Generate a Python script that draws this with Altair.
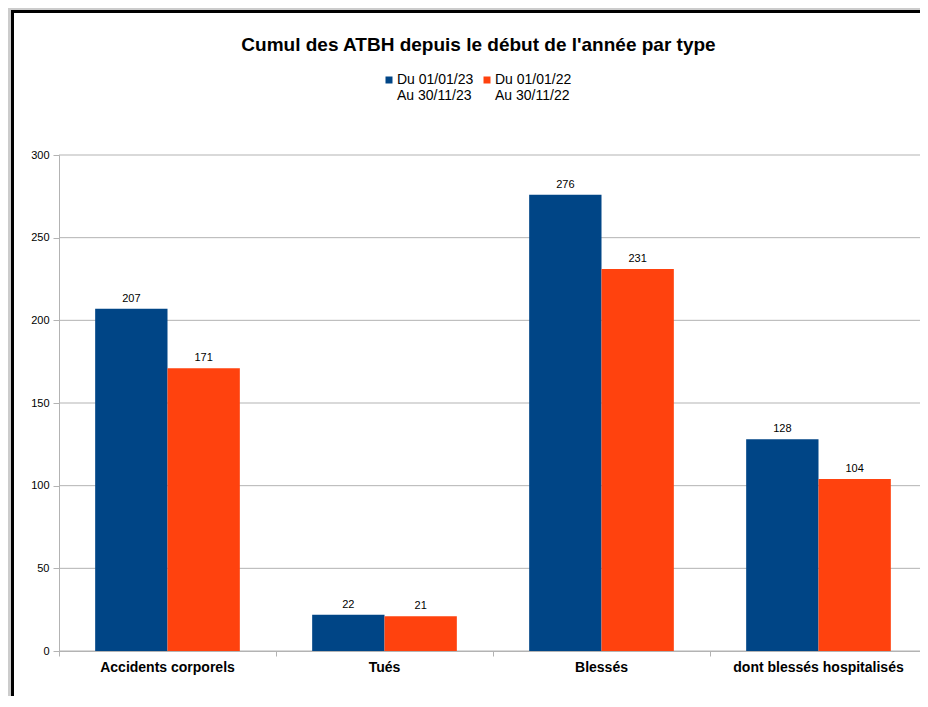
import altair as alt
import pandas as pd

categories = ["Accidents corporels", "Tués", "Blessés", "dont blessés hospitalisés"]
series_names = ["Du 01/01/23\nAu 30/11/23", "Du 01/01/22\nAu 30/11/22"]
values_2023 = [207, 22, 276, 128]
values_2022 = [171, 21, 231, 104]
colors = ["#004586", "#ff420e"]
y_ticks = [0, 50, 100, 150, 200, 250, 300]

rows = []
for c, a, b in zip(categories, values_2023, values_2022):
    rows.append({"type": c, "serie": series_names[0], "valeur": a})
    rows.append({"type": c, "serie": series_names[1], "valeur": b})
df = pd.DataFrame(rows)
grid_df = pd.DataFrame({"valeur": y_ticks})

FONT = "Liberation Sans"
GRID = "#b3b3b3"
PLOT_W = 868

y_scale = alt.Scale(domain=[0, 300], nice=False)

x_enc = alt.X(
    "type:N",
    sort=categories,
    scale=alt.Scale(paddingInner=0, paddingOuter=0, range=[0, PLOT_W]),
    axis=alt.Axis(
        title=None, labelAngle=0, labelFontSize=14, labelFontWeight="bold",
        labelColor="#000000", labelFont=FONT, labelPadding=4,
        domainColor=GRID, tickColor=GRID, tickSize=5,
        bandPosition=0, grid=False, zindex=1,
    ),
)
y_enc = alt.Y(
    "valeur:Q",
    scale=y_scale,
    axis=alt.Axis(
        title=None, values=y_ticks, labelFontSize=11, labelColor="#000000",
        labelFont=FONT, labelPadding=4, tickSize=6, tickColor=GRID,
        domainColor=GRID, grid=False, zindex=1,
    ),
)
xoff = alt.XOffset(
    "serie:N", sort=series_names,
    scale=alt.Scale(paddingInner=0, paddingOuter=0.5),
)

frame = alt.Chart(pd.DataFrame({"k": [0]})).mark_rect(
    fill="#ffffff", stroke="#000000", strokeWidth=3
).encode(
    x=alt.value(-46.5), x2=alt.value(1000),
    y=alt.value(-143.5), y2=alt.value(700),
)

grid = alt.Chart(grid_df).mark_rule(color=GRID, strokeWidth=1).encode(
    y=alt.Y("valeur:Q", scale=y_scale),
    x=alt.value(0), x2=alt.value(PLOT_W),
)

bars = alt.Chart(df).mark_bar().encode(
    x=x_enc,
    xOffset=xoff,
    y=y_enc,
    color=alt.Color(
        "serie:N", sort=series_names,
        scale=alt.Scale(domain=series_names, range=colors),
        legend=alt.Legend(
            title=None, orient="none", legendX=323, legendY=-82,
            direction="horizontal", symbolType="square", symbolSize=49,
            symbolStrokeWidth=0, labelFontSize=14, labelFont=FONT,
            labelColor="#000000", labelExpr="split(datum.label, '\\n')",
            labelBaseline="middle", columnPadding=6, labelOffset=1, padding=0,
        ),
    ),
)

labels = alt.Chart(df).mark_text(
    baseline="middle", dy=-10, fontSize=11, font=FONT, color="#000000"
).encode(
    x=alt.X("type:N", sort=categories),
    xOffset=alt.XOffset("serie:N", sort=series_names),
    y="valeur:Q",
    text="valeur:Q",
)

chart = alt.layer(frame, grid, bars, labels).properties(
    width=861, height=496,
    autosize=alt.AutoSizeParams(type="none"),
    padding={"left": 51, "top": 147, "right": 0, "bottom": 45},
    background="#cccccc",
    title=alt.Title(
        "Cumul des ATBH depuis le début de l'année par type",
        fontSize=19, font=FONT, fontWeight="bold", color="#000000",
        anchor="middle", frame="group", baseline="middle", offset=0,
        dx=-11, dy=54,
    ),
).configure_view(stroke=None)

chart.save("out.html", embed_options={"renderer": "svg", "actions": False})
